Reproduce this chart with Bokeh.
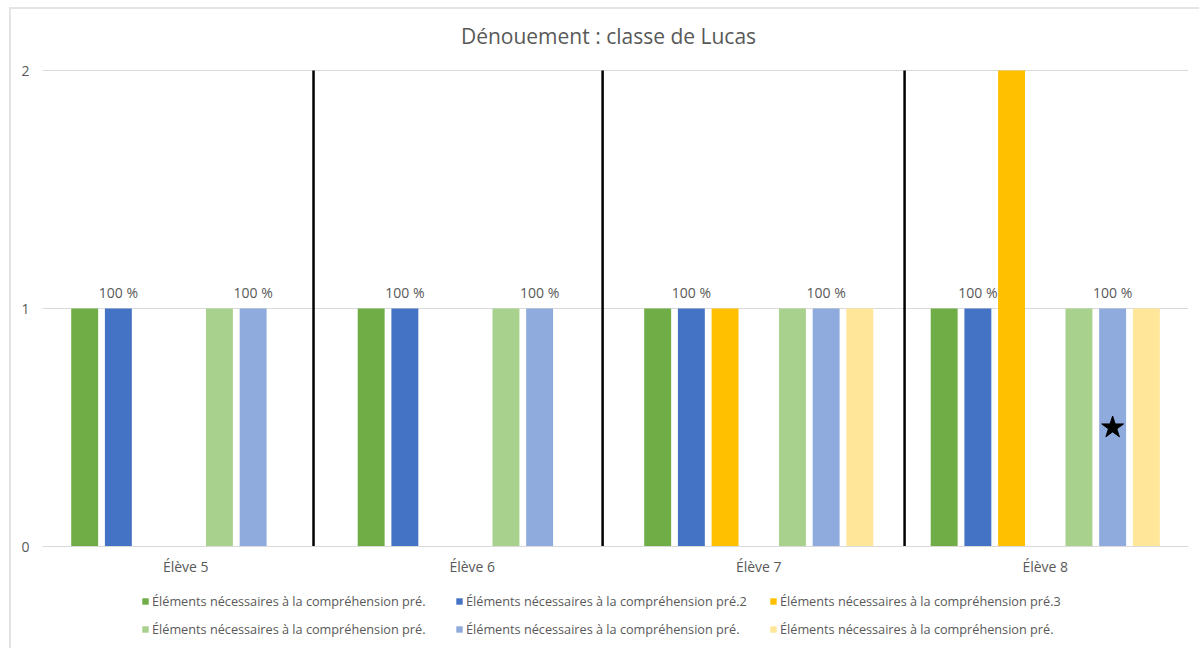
from bokeh.plotting import figure
from bokeh.models import (ColumnDataSource, FixedTicker, Range1d, Legend, LegendItem,
                          LabelSet, Label, LinearAxis)
from bokeh.embed import file_html
from bokeh.resources import INLINE
from bokeh.core.properties import value

# ---------------- data ----------------
categories = ["Élève 5", "Élève 6", "Élève 7", "Élève 8"]
series_names = [
    "Éléments nécessaires à la compréhension pré.",
    "Éléments nécessaires à la compréhension pré.2",
    "Éléments nécessaires à la compréhension pré.3",
    "",  # empty series (no bars)
    "Éléments nécessaires à la compréhension pré.",
    "Éléments nécessaires à la compréhension pré.",
    "Éléments nécessaires à la compréhension pré.",
]
series_values = [
    [1, 1, 1, 1],
    [1, 1, 1, 1],
    [0, 0, 1, 2],
    [0, 0, 0, 0],
    [1, 1, 1, 1],
    [1, 1, 1, 1],
    [0, 0, 1, 1],
]
series_colors = ["#70AD47", "#4472C4", "#FFC000", None, "#A9D18E", "#8FAADC", "#FFE699"]
labelled_series = [1, 5]          # series whose bars carry "100 %" labels
label_texts = ["100 %", "100 %", "100 %", "100 %"]
separator_x = [0.446, 1.455, 2.509]   # hand-drawn vertical separators
star_category = 3
star_series = 5
star_value = 0.5
y_ticks = [0, 1, 2]
title_text = "Dénouement : classe de Lucas"
legend_rows = [[0, 1, 2], [4, 5, 6]]

FONT = "Open Sans"
GREY = "#595959"
n_series = len(series_values)
slot = 0.1176
bar_w = 0.094

# layout (pixels)
PX_PER_UNIT = 238.0      # vertical pixels per value unit
FRAME_H = 637
ABOVE_TOP = 58           # frame space above value 2
BELOW_ZERO = 103         # frame space below value 0 (category labels + legend)
y_lo = -BELOW_ZERO / PX_PER_UNIT
y_hi = 2 + ABOVE_TOP / PX_PER_UNIT

p = figure(frame_width=1146, frame_height=FRAME_H, output_backend="svg",
           toolbar_location=None, x_axis_location=None,
           x_range=Range1d(-0.5, len(categories) - 0.5), y_range=Range1d(y_lo, y_hi),
           min_border_left=31, min_border_right=13, min_border_top=3, min_border_bottom=1)
p.margin = (9, 0, 0, 11)
p.styles = {"box-shadow": "-2px -2px 0 0 #e4e4e4"}

p.outline_line_color = None
p.xgrid.grid_line_color = None
p.ygrid.grid_line_color = "#D9D9D9"
p.ygrid.ticker = FixedTicker(ticks=y_ticks)

p.yaxis.ticker = FixedTicker(ticks=y_ticks)
p.yaxis.axis_line_color = None
p.yaxis.major_tick_line_color = None
p.yaxis.major_tick_out = 0
p.yaxis.major_tick_in = 0
p.yaxis.minor_tick_line_color = None
p.yaxis.major_label_text_font = FONT
p.yaxis.major_label_text_font_size = "14px"
p.yaxis.major_label_text_color = GREY
p.yaxis.major_label_standoff = 13

xaxis = LinearAxis(fixed_location=0,
                   ticker=FixedTicker(ticks=list(range(len(categories)))),
                   major_label_overrides={i: c for i, c in enumerate(categories)},
                   axis_line_color="#D9D9D9", major_tick_line_color=None,
                   major_tick_out=0, major_tick_in=0, minor_tick_line_color=None,
                   major_label_text_font=FONT, major_label_text_font_size="14px",
                   major_label_text_color=GREY, major_label_standoff=10)
p.add_layout(xaxis, "below")

title = Label(x=(len(categories) - 1) / 2, y=2 + 35 / PX_PER_UNIT, x_offset=-7,
              text=title_text, text_align="center", text_baseline="middle",
              text_font=FONT, text_font_size="21px", text_color=GREY)
p.add_layout(title)

renderers = {}
for k in range(n_series):
    if series_colors[k] is None:
        continue
    off = (k - (n_series - 1) / 2) * slot
    xs = [i + off for i in range(len(categories))]
    src = ColumnDataSource(dict(x=xs, top=series_values[k]))
    r = p.vbar(x="x", top="top", bottom=0, width=bar_w, source=src,
               fill_color=series_colors[k], line_color=None)
    renderers[k] = r

for k in labelled_series:
    off = (k - (n_series - 1) / 2) * slot
    xs = [i + off for i in range(len(categories))]
    src = ColumnDataSource(dict(x=xs, y=series_values[k], lab=label_texts))
    p.add_layout(LabelSet(x="x", y="y", text="lab", source=src, y_offset=16,
                          text_align="center", text_baseline="middle",
                          text_font=value(FONT), text_font_size="14px", text_color=GREY))

for sx in separator_x:
    p.segment(x0=[sx], y0=[0], x1=[sx], y1=[2], line_color="black", line_width=2.5)

star_off = (star_series - (n_series - 1) / 2) * slot
p.scatter(x=[star_category + star_off], y=[star_value], marker="star", size=23,
          fill_color="black", line_color="black")

legend_offsets = [34, 6]   # legend row bottoms, pixels above the frame bottom
for row, off_px in zip(legend_rows, legend_offsets):
    items = [LegendItem(label=series_names[k], renderers=[renderers[k]]) for k in row]
    legend = Legend(items=items, orientation="horizontal", location=(99, off_px),
                    label_text_font=FONT, label_text_font_size="12.7px", label_text_color=GREY,
                    glyph_width=8, glyph_height=8, label_standoff=3, label_height=28,
                    label_width=294, spacing=9, padding=0, margin=0,
                    border_line_color=None, background_fill_alpha=0)
    p.add_layout(legend, "center")

open("out.html", "w").write(file_html(p, INLINE))
